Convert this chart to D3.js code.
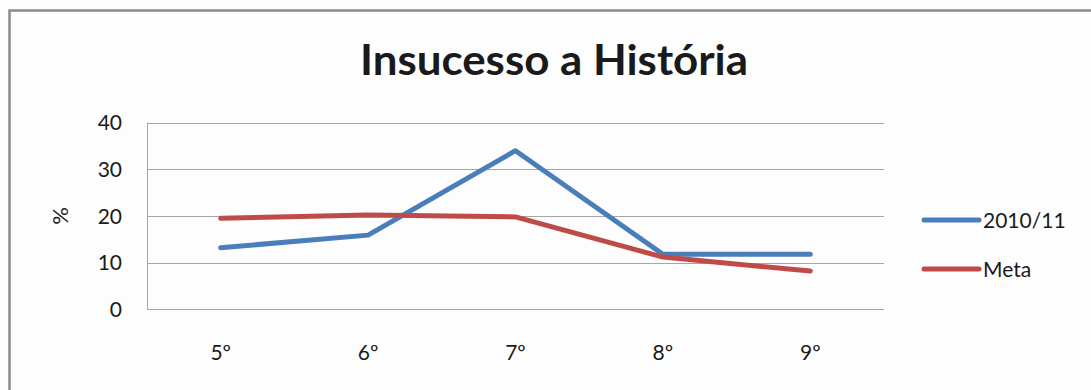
<!DOCTYPE html>
<html>
<head>
<meta charset="utf-8">
<script src="https://cdn.jsdelivr.net/npm/d3@7"></script>
<style>
  html, body { margin: 0; padding: 0; background: #fdfdfd; }
  svg { display: block; }
  text { font-family: Lato, "Open Sans", sans-serif; fill: #1a1a1a; }
</style>
</head>
<body>
<script>
// Categories (school years) and series values, in %
const categories = ["5º", "6º", "7º", "8º", "9º"];
const series2010 = [13.2, 15.9, 34.0, 11.8, 11.8];
const seriesMeta = [19.5, 20.2, 19.8, 11.2, 8.2];
const seriesNames = ["2010/11", "Meta"];
const yTicks = [0, 10, 20, 30, 40];

const W = 1091, H = 390;
const plot = { left: 147, right: 884, top: 122.7, bottom: 309.3 };
const colors = ["#4a7ebb", "#be4b48"];

const svg = d3.select("body").append("svg")
  .attr("width", W).attr("height", H);

svg.append("rect").attr("width", W).attr("height", H).attr("fill", "#fdfdfd");

// chart frame
svg.append("path")
  .attr("d", `M9.5,${H + 5} V10.5 H${W + 5}`)
  .attr("fill", "none").attr("stroke", "#8a8a8a").attr("stroke-width", 2.5);

// title
svg.append("text")
  .attr("x", 554).attr("y", 75)
  .attr("text-anchor", "middle")
  .style("font-size", "42px").style("font-weight", 700)
  .attr("fill", "#000")
  .attr("textLength", 388).attr("lengthAdjust", "spacingAndGlyphs")
  .text("Insucesso a História");

const x = d3.scaleBand().domain(categories).range([plot.left, plot.right]);
const y = d3.scaleLinear().domain([0, 40]).range([plot.bottom, plot.top]);

// gridlines
svg.append("g").selectAll("line").data(yTicks).join("line")
  .attr("x1", plot.left).attr("x2", plot.right)
  .attr("y1", d => Math.round(y(d)) + 0.5).attr("y2", d => Math.round(y(d)) + 0.5)
  .attr("stroke", "#a6a6a6").attr("stroke-width", 1);

// left axis line
svg.append("line")
  .attr("x1", plot.left + 0.5).attr("x2", plot.left + 0.5)
  .attr("y1", y(40)).attr("y2", y(0))
  .attr("stroke", "#a6a6a6");

// y tick labels
svg.append("g").selectAll("text").data(yTicks).join("text")
  .attr("x", 122).attr("y", d => y(d) + 7.5)
  .attr("text-anchor", "end")
  .style("font-size", "21px")
  .text(d => d);

// y axis title
svg.append("text")
  .attr("transform", "translate(68,216) rotate(-90)")
  .attr("text-anchor", "middle")
  .style("font-size", "22px")
  .text("%");

// x tick labels
svg.append("g").selectAll("text").data(categories).join("text")
  .attr("x", d => x(d) + x.bandwidth() / 2)
  .attr("y", 360)
  .attr("text-anchor", "middle")
  .style("font-size", "21px")
  .text(d => d);

// series lines
const line = d3.line()
  .x((d, i) => x(categories[i]) + x.bandwidth() / 2)
  .y(d => y(d));

[series2010, seriesMeta].forEach((vals, i) => {
  svg.append("path")
    .datum(vals)
    .attr("d", line)
    .attr("fill", "none")
    .attr("stroke", colors[i])
    .attr("stroke-width", 5)
    .attr("stroke-linejoin", "round")
    .attr("stroke-linecap", "round");
});

// legend
const legend = svg.append("g").selectAll("g").data(seriesNames).join("g")
  .attr("transform", (d, i) => `translate(924,${220 + i * 49})`);
legend.append("line")
  .attr("x1", 0).attr("x2", 55).attr("y1", 0).attr("y2", 0)
  .attr("stroke", (d, i) => colors[i]).attr("stroke-width", 5)
  .attr("stroke-linecap", "round");
legend.append("text")
  .attr("x", 59).attr("y", 7.5)
  .style("font-size", "21px")
  .text(d => d);
</script>
</body>
</html>
